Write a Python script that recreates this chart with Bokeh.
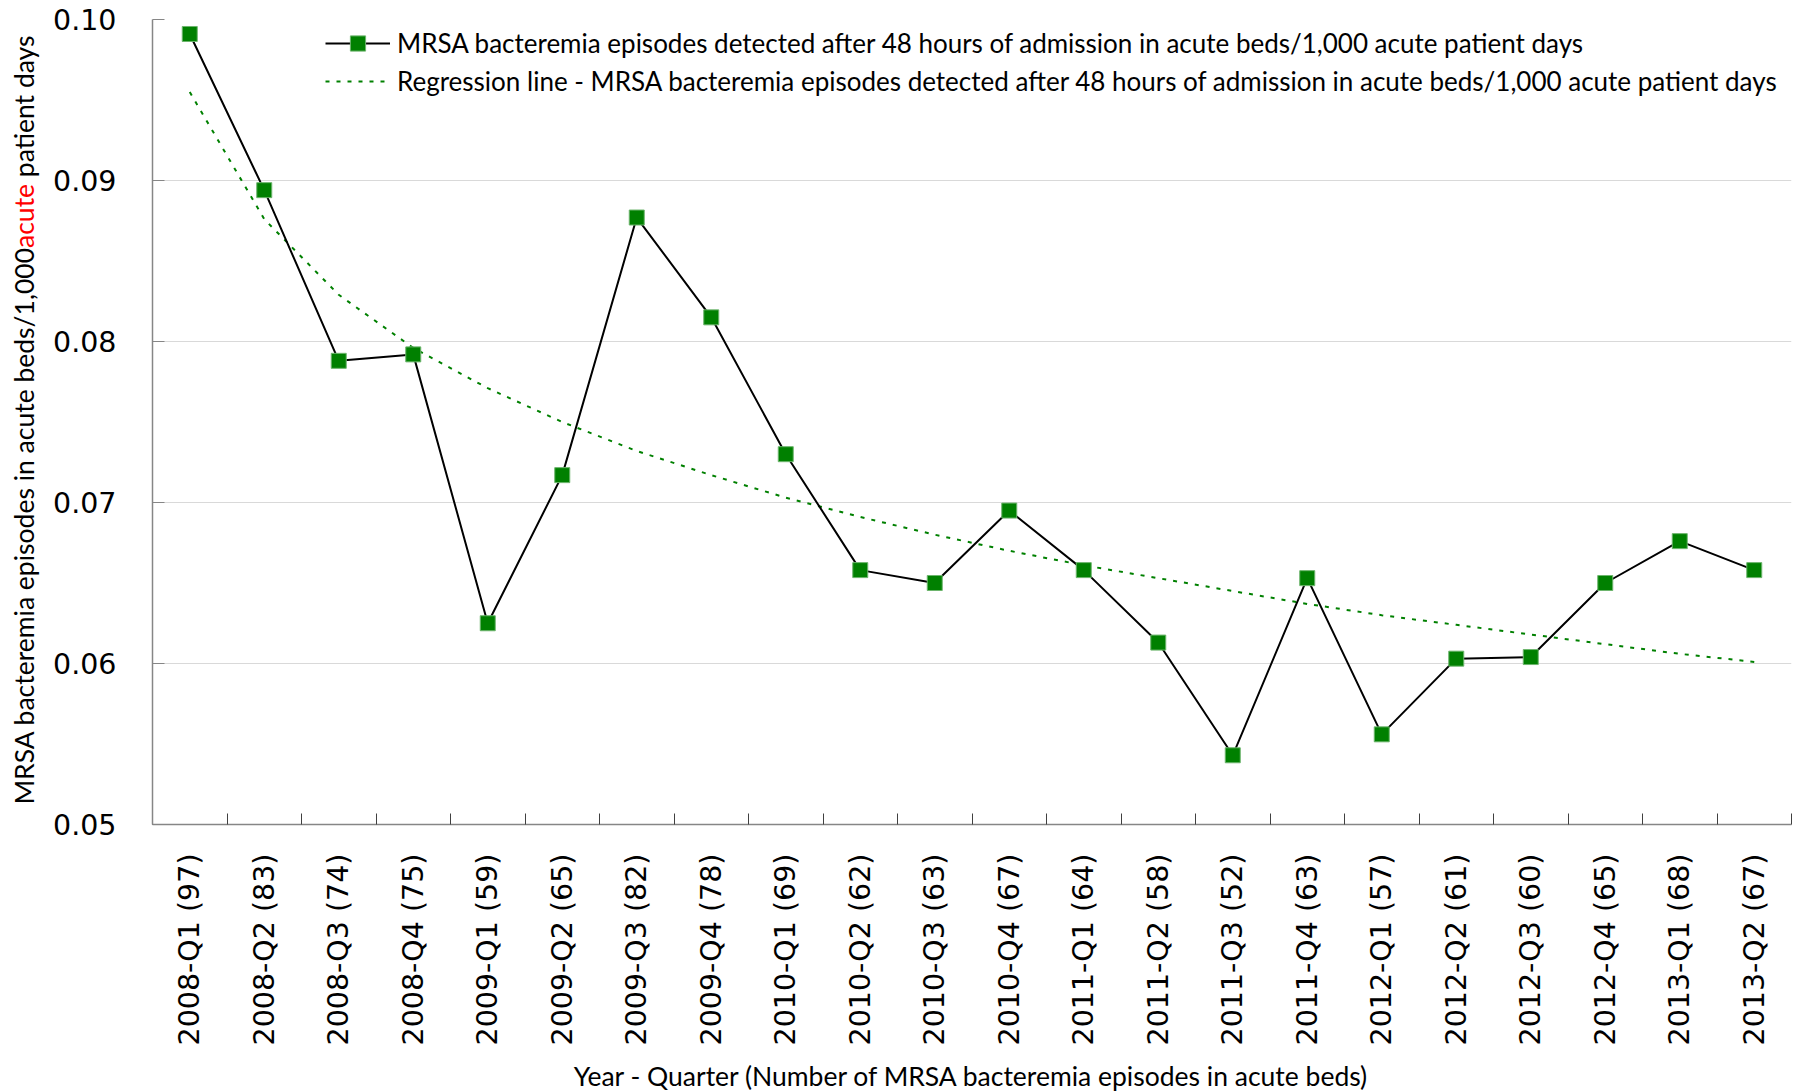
import math
from bokeh.plotting import figure
from bokeh.layouts import column, row
from bokeh.models import Div, FixedTicker, Label, Legend, LegendItem, PrintfTickFormatter, Range1d
from bokeh.embed import file_html
from bokeh.resources import INLINE

quarters = ["2008-Q1", "2008-Q2", "2008-Q3", "2008-Q4", "2009-Q1", "2009-Q2", "2009-Q3",
            "2009-Q4", "2010-Q1", "2010-Q2", "2010-Q3", "2010-Q4", "2011-Q1", "2011-Q2",
            "2011-Q3", "2011-Q4", "2012-Q1", "2012-Q2", "2012-Q3", "2012-Q4", "2013-Q1",
            "2013-Q2"]
episodes = [97, 83, 74, 75, 59, 65, 82, 78, 69, 62, 63, 67, 64, 58, 52, 63, 57, 61, 60, 65, 68, 67]
rates = [0.0991, 0.0894, 0.0788, 0.0792, 0.0625, 0.0717, 0.0877, 0.0815, 0.0730, 0.0658,
         0.0650, 0.0695, 0.0658, 0.0613, 0.0543, 0.0653, 0.0556, 0.0603, 0.0604, 0.0650,
         0.0676, 0.0658]
regression = [0.0955, 0.0876, 0.0829, 0.0796, 0.0771, 0.0750, 0.0732, 0.0717, 0.0703,
              0.0691, 0.0680, 0.0670, 0.0661, 0.0653, 0.0645, 0.0637, 0.0630, 0.0624,
              0.0618, 0.0612, 0.0606, 0.0601]
y_ticks = [0.05, 0.06, 0.07, 0.08, 0.09, 0.10]

series_label = "MRSA bacteremia episodes detected after 48 hours of admission in acute beds/1,000 acute patient days"
trend_label = "Regression line - MRSA bacteremia episodes detected after 48 hours of admission in acute beds/1,000 acute patient days"
x_title = "Year - Quarter (Number of MRSA bacteremia episodes in acute beds)"
y_title_parts = ["MRSA bacteremia episodes in acute beds/1,000", "acute", "patient days"]

n = len(quarters)
xs = list(range(1, n + 1))
tick_labels = {i: f"{q} ({c})" for i, q, c in zip(xs, quarters, episodes)}

TEXT_FONT = "Lato"
TITLE_SIZE = 26.5
TICK_FONT_SIZE = "28.5px"
TOTAL_W, TOTAL_H = 1800, 1091
STRIP_W = 40          # left strip holding the y-axis title
MAIN_H = 1055         # height of the plotting row
BOTTOM_H = TOTAL_H - MAIN_H

# ---------------- main plot ----------------
p = figure(width=TOTAL_W - STRIP_W, height=MAIN_H, output_backend="svg", toolbar_location=None,
           x_range=Range1d(0.5, n + 0.5), y_range=Range1d(y_ticks[0], y_ticks[-1]),
           min_border_left=152 - STRIP_W, min_border_right=TOTAL_W - 1791,
           min_border_top=19, min_border_bottom=MAIN_H - 824)
p.outline_line_color = None

p.xgrid.visible = False
p.ygrid.grid_line_color = "#d9d9d9"
p.ygrid.grid_line_width = 1

p.yaxis.ticker = FixedTicker(ticks=y_ticks, minor_ticks=[])
p.yaxis.formatter = PrintfTickFormatter(format="%.2f")
p.yaxis.major_tick_in = 12
p.yaxis.major_tick_out = 0
p.yaxis.minor_tick_line_color = None
p.yaxis.major_tick_line_color = "#868686"
p.yaxis.axis_line_color = "#868686"
p.yaxis.axis_line_width = 1.5
p.yaxis.major_label_text_font = "DejaVu Sans"
p.yaxis.major_label_text_font_size = TICK_FONT_SIZE
p.yaxis.major_label_text_color = "black"
p.yaxis.major_label_standoff = 36

p.xaxis.ticker = FixedTicker(ticks=xs, minor_ticks=[i + 0.5 for i in range(0, n + 1)])
p.xaxis.major_label_overrides = tick_labels
p.xaxis.major_label_orientation = math.pi / 2
p.xaxis.major_tick_line_color = None
p.xaxis.major_tick_in = 0
p.xaxis.major_tick_out = 0
p.xaxis.minor_tick_in = 11
p.xaxis.minor_tick_out = 0
p.xaxis.minor_tick_line_color = "#404040"
p.xaxis.axis_line_color = "#868686"
p.xaxis.axis_line_width = 1.5
p.xaxis.major_label_text_font = "DejaVu Sans"
p.xaxis.major_label_text_font_size = TICK_FONT_SIZE
p.xaxis.major_label_text_color = "black"
p.xaxis.major_label_standoff = 29

trend_r = p.line(xs, regression, line_color="#008000", line_width=2, line_dash="4 7")
line_r = p.line(xs, rates, line_color="black", line_width=2)
sq_r = p.scatter(xs, rates, marker="square", size=15, fill_color="#008000",
                 line_color="#6db56d", line_width=1)

legend = Legend(items=[LegendItem(label=series_label, renderers=[line_r, sq_r]),
                       LegendItem(label=trend_label, renderers=[trend_r])],
                location=(173, 724))
legend.border_line_color = None
legend.background_fill_alpha = 0
legend.padding = 0
legend.margin = 0
legend.spacing = 0
legend.glyph_width = 65
legend.glyph_height = 38
legend.label_height = 38
legend.label_standoff = 7
legend.label_text_font = TEXT_FONT
legend.label_text_font_size = "26px"
legend.label_text_color = "black"
p.add_layout(legend)

# ---------------- y-axis title strip (one rotated line with a red run) ----------------
y_title_html = (
    f'<div style="position:relative;width:{STRIP_W}px;height:{MAIN_H}px;overflow:visible;">'
    '<div style="position:absolute;left:25px;top:420px;'
    'transform:translate(-50%,-50%) rotate(-90deg);white-space:nowrap;'
    f'font-family:{TEXT_FONT},sans-serif;font-size:{TITLE_SIZE}px;line-height:1.2;color:#000000;">'
    f'{y_title_parts[0]}<span style="color:#ff0000;">{y_title_parts[1]}</span> {y_title_parts[2]}'
    '</div></div>'
)
ys = Div(text=y_title_html, width=STRIP_W, height=MAIN_H, margin=0)

# ---------------- x-axis title strip ----------------
xt = figure(width=TOTAL_W, height=BOTTOM_H, output_backend="svg", toolbar_location=None,
            x_range=Range1d(0, TOTAL_W), y_range=Range1d(0, BOTTOM_H),
            x_axis_location=None, y_axis_location=None,
            min_border=0, min_border_left=0, min_border_right=0,
            min_border_top=0, min_border_bottom=0)
xt.grid.visible = False
xt.outline_line_color = None
xt.add_layout(Label(x=(152 + 1791) / 2, y=BOTTOM_H - (1075 - MAIN_H), text=x_title,
                    text_align="center", text_baseline="middle",
                    text_font=TEXT_FONT, text_font_size=f"{TITLE_SIZE}px", text_color="black"))

layout = column(row(ys, p), xt)
open("out.html", "w").write(file_html(layout, INLINE))
